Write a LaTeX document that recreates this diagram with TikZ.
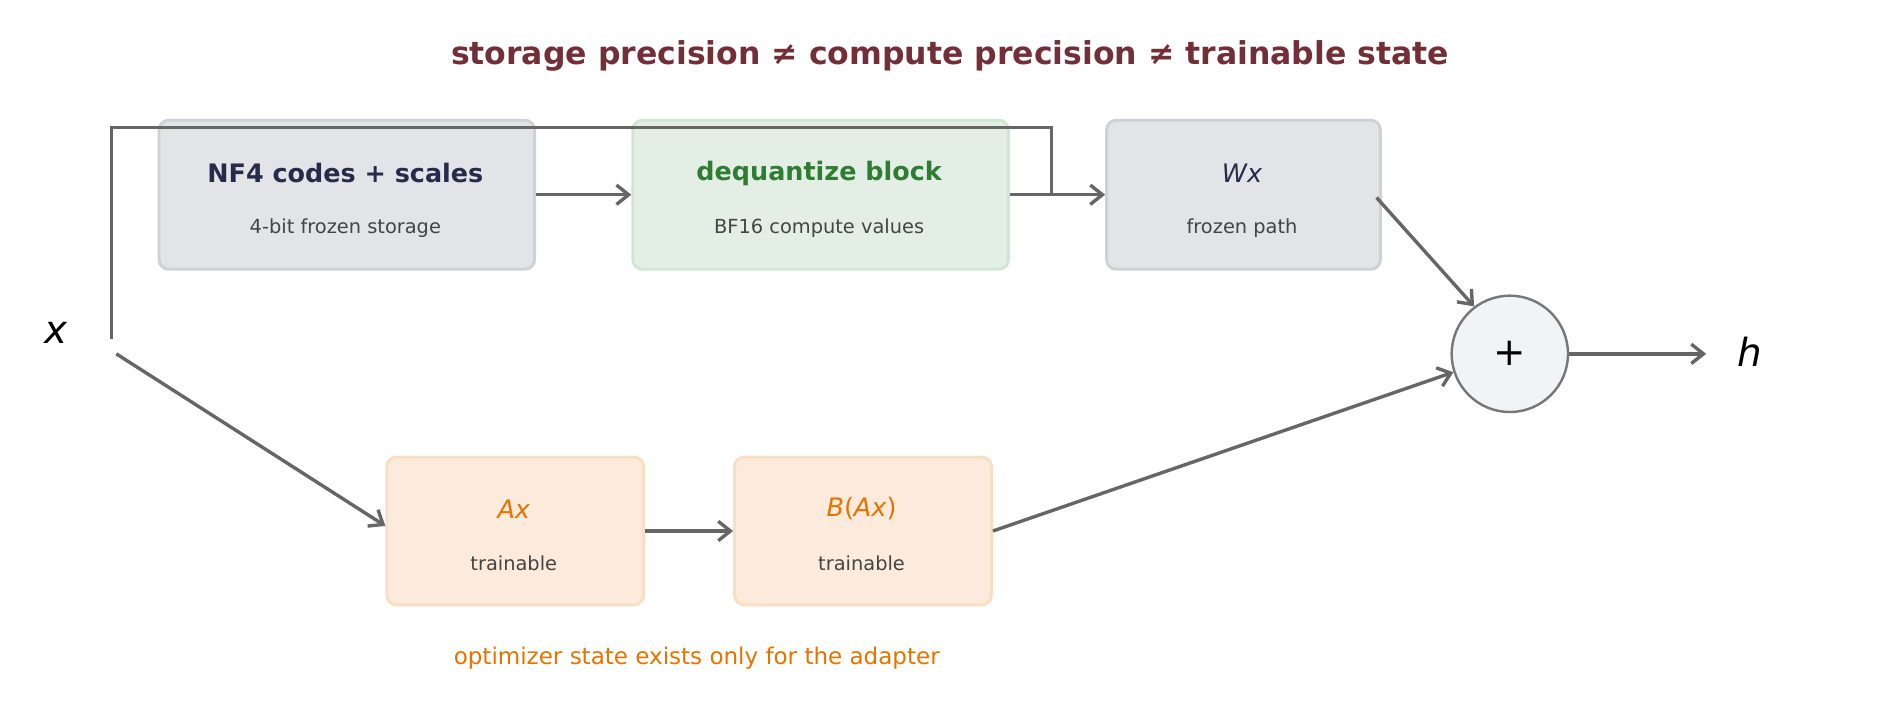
\documentclass[tikz,border=0pt]{standalone}
\usepackage{fontspec}
\setmainfont{DejaVu Sans}
\usetikzlibrary{arrows.meta}
\definecolor{wine}{HTML}{722F37}
\definecolor{navy}{HTML}{262B4A}
\definecolor{dgreen}{HTML}{2E7D32}
\definecolor{orng}{HTML}{E67300}
\definecolor{subc}{HTML}{444444}
\definecolor{lnc}{HTML}{666666}
\definecolor{gfill}{HTML}{E3E4E8}
\definecolor{gdraw}{HTML}{CFD0D8}
\definecolor{grfill}{HTML}{E3EFE5}
\definecolor{grdraw}{HTML}{D0E6D3}
\definecolor{ofill}{HTML}{FCEBDD}
\definecolor{odraw}{HTML}{F9DEC4}
\definecolor{cdraw}{HTML}{777777}
\definecolor{cfill}{HTML}{F2F3F5}
\begin{document}
\begin{tikzpicture}[x=0.5pt,y=-0.5pt,
 box/.style={draw,line width=1.2pt,rounded corners=4pt,anchor=north west,inner sep=0},
 gbox/.style={box,fill=gfill,draw=gdraw},
 grbox/.style={box,fill=grfill,draw=grdraw},
 obox/.style={box,fill=ofill,draw=odraw},
 ttl/.style={font=\bfseries\fontsize{10.5}{12}\selectfont},
 sub/.style={font=\fontsize{8}{10}\selectfont,text=subc},
 ar/.style={draw=lnc,line width=1.4pt,-{Straight Barb[length=5pt,width=8pt]}},
 ln/.style={draw=lnc,line width=1.4pt}]
\useasboundingbox (0,0) rectangle (1568,586);
\node[text=wine,font=\bfseries\fontsize{13}{15}\selectfont] (title) at (784,46) {storage precision ≠ compute precision ≠ trainable state};
\node[gbox,minimum width=155pt,minimum height=61.5pt] (nf) at (130,98) {};
\node[ttl,text=navy] at (285,143) {NF4 codes + scales};
\node[sub] at (285,188) {4-bit frozen storage};
\node[grbox,minimum width=155pt,minimum height=61.5pt] (dq) at (521,98) {};
\node[ttl,text=dgreen] at (676,143) {dequantize block};
\node[sub] at (676,188) {BF16 compute values};
\node[gbox,minimum width=113pt,minimum height=61.5pt] (wx) at (912,98) {};
\node[text=navy,font=\itshape\fontsize{10.5}{12}\selectfont] at (1025,143) {Wx};
\node[sub] at (1025,188) {frozen path};
\node[obox,minimum width=106pt,minimum height=61pt] (ax) at (318,376) {};
\node[text=orng,font=\itshape\fontsize{10.5}{12}\selectfont] at (424,420) {Ax};
\node[sub] at (424,465) {trainable};
\node[obox,minimum width=106pt,minimum height=61pt] (bx) at (605,376) {};
\node[text=orng,font=\fontsize{10.5}{12}\selectfont] at (711,420) {\textit{B}(\textit{Ax})};
\node[sub] at (711,465) {trainable};
\node[circle,draw=cdraw,fill=cfill,line width=1pt,minimum size=48pt,inner sep=0,font=\fontsize{16}{18}\selectfont] (plus) at (1246,292) {+};
\node[font=\itshape\fontsize{16}{18}\selectfont] (x) at (46,275) {x};
\node[font=\itshape\fontsize{16}{18}\selectfont] (h) at (1444,290) {h};
\node[text=orng,font=\fontsize{9.5}{11}\selectfont] (foot) at (575,543) {optimizer state exists only for the adapter};
\coordinate (xs) at (92,280);
\coordinate (tl) at (92,105);
\coordinate (tr) at (868,105);
\coordinate (td) at (868,159);
\coordinate (xd) at (96,292);
\coordinate (he) at (1408,292);
\coordinate (wxo) at (1136,163);
\coordinate (axi) at (318,434);
\draw[ln] (xs) -- (tl) -- (tr) -- (td);
\draw[ar] (nf.east) -- (dq.west);
\draw[ar] (dq.east) -- (wx.west);
\draw[ar] (wxo) -- (plus.127);
\draw[ar] (xd) -- (axi);
\draw[ar] (ax.east) -- (bx.west);
\draw[ar] (bx.east) -- (plus.198);
\draw[ar] (plus.east) -- (he);
\end{tikzpicture}
\end{document}
